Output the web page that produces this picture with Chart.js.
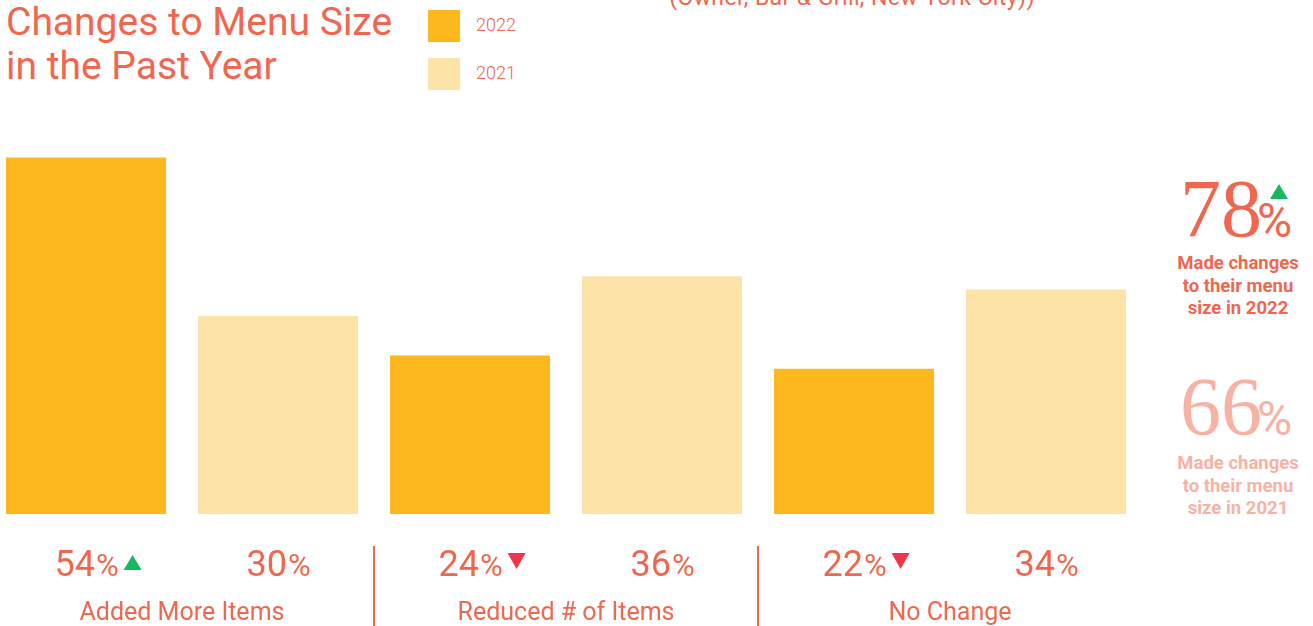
<!DOCTYPE html>
<html>
<head>
<meta charset="utf-8">
<script src="https://cdn.jsdelivr.net/npm/chart.js@4.4.1/dist/chart.umd.min.js"></script>
<style>
  body { margin: 0; width: 1313px; height: 626px; overflow: hidden; background: #fff; position: relative; font-family: Roboto, sans-serif; color: #F1664F; }
  #chart { position: absolute; left: -10px; top: 0; }
  .caption { position: absolute; left: 600px; width: 504px; top: -12px; text-align: center; font-size: 23px; line-height: 20px; font-weight: 400; letter-spacing: 0.4px; }
  .title { position: absolute; left: 6px; top: 0px; font-size: 39px; line-height: 44px; font-weight: 400; }
  .legend { position: absolute; left: 428px; top: 10px; }
  .legend .item { height: 32px; margin-bottom: 16px; display: flex; align-items: center; }
  .legend .box { width: 32px; height: 32px; margin-right: 16px; }
  .legend .txt { font-size: 18px; font-weight: 300; margin-top: -4px; }
  .stat { position: absolute; left: 1158px; width: 160px; text-align: center; }
  .stat .big { position: relative; height: 70px; }
  .stat .num { position: absolute; left: 22px; top: 0; font-family: "Liberation Serif", serif; font-size: 82px; line-height: 82px; }
  .stat .pct { position: absolute; left: 99px; top: 29px; font-size: 48px; line-height: 48px; font-weight: 400; }
  .stat .tri { position: absolute; left: 112px; top: 16px; width: 0; height: 0; border-left: 9px solid transparent; border-right: 9px solid transparent; border-bottom: 15px solid #19B85F; }
  .stat .desc { font-size: 18.5px; line-height: 22.5px; font-weight: 700; margin-top: 0; }
</style>
</head>
<body>
<div class="caption">(Owner, Bar &amp; Grill, New York City))</div>
<div class="title">Changes to Menu Size<br>in the Past Year</div>
<div class="legend" id="legend"></div>
<div id="stats"></div>
<canvas id="chart" width="1323" height="626"></canvas>
<script>
var categories = ['Added More Items', 'Reduced # of Items', 'No Change'];
var seriesNames = ['2022', '2021'];
var values2022 = [54, 24, 22];
var values2021 = [30, 36, 34];
var madeChanges = [78, 66];
var madeChangesText = ['Made changes<br>to their menu<br>size in 2022', 'Made changes<br>to their menu<br>size in 2021'];

var textColor = '#F1664F';
var lightText = '#F7B2A4';
var upColor = '#19B85F';
var downColor = '#F2344A';
var barColors = ['#FDB81D', '#FDE3A8'];

// legend
var legendHtml = '';
for (var i = 0; i < seriesNames.length; i++) {
  legendHtml += '<div class="item"><div class="box" style="background:' + barColors[i] + '"></div><div class="txt">' + seriesNames[i] + '</div></div>';
}
document.getElementById('legend').innerHTML = legendHtml;

// right side totals
var statTops = [168, 366];
var statsHtml = '';
for (var i = 0; i < madeChanges.length; i++) {
  var col = i === 0 ? textColor : lightText;
  var tri = (i === 0 && madeChanges[0] > madeChanges[1]) ? '<div class="tri"></div>' : '';
  statsHtml += '<div class="stat" style="top:' + statTops[i] + 'px;color:' + col + '">' +
    '<div class="big"><span class="num">' + madeChanges[i] + '</span><span class="pct">%</span>' + tri + '</div>' +
    '<div class="desc" style="margin-top:' + (i === 0 ? 14 : 16) + 'px">' + madeChangesText[i] + '</div></div>';
}
document.getElementById('stats').innerHTML = statsHtml;

function triangle(ctx, x, y, up, color) {
  ctx.fillStyle = color;
  ctx.beginPath();
  if (up) {
    ctx.moveTo(x, y + 15); ctx.lineTo(x + 18, y + 15); ctx.lineTo(x + 9, y);
  } else {
    ctx.moveTo(x, y); ctx.lineTo(x + 18, y); ctx.lineTo(x + 9, y + 16);
  }
  ctx.closePath();
  ctx.fill();
}

var bottomLabels = {
  id: 'bottomLabels',
  afterDatasetsDraw: function(chart) {
    var ctx = chart.ctx;
    var xs = chart.scales.x;
    ctx.save();
    ctx.textBaseline = 'alphabetic';
    chart.data.datasets.forEach(function(ds, di) {
      var meta = chart.getDatasetMeta(di);
      meta.data.forEach(function(bar, i) {
        var num = String(ds.data[i]);
        ctx.font = '36px Roboto';
        var w1 = ctx.measureText(num).width;
        ctx.font = '31px Roboto';
        var w2 = ctx.measureText('%').width;
        var left = bar.x - (w1 + w2) / 2;
        ctx.fillStyle = textColor;
        ctx.textAlign = 'left';
        ctx.font = '36px Roboto';
        ctx.fillText(num, left, 576);
        ctx.font = '31px Roboto';
        ctx.fillText('%', left + w1 + 1, 576);
        if (di === 0) {
          var other = chart.data.datasets[1].data[i];
          var up = ds.data[i] > other;
          triangle(ctx, left + w1 + w2 + 6, up ? 555 : 553, up, up ? upColor : downColor);
        }
      });
    });
    ctx.fillStyle = textColor;
    ctx.textAlign = 'center';
    ctx.font = '25px Roboto';
    categories.forEach(function(c, i) {
      ctx.fillText(c, xs.getPixelForValue(i), 620);
    });
    ctx.strokeStyle = textColor;
    ctx.lineWidth = 2;
    for (var i = 1; i < categories.length; i++) {
      var px = Math.round((xs.getPixelForValue(i - 1) + xs.getPixelForValue(i)) / 2);
      ctx.beginPath();
      ctx.moveTo(px, 546);
      ctx.lineTo(px, 626);
      ctx.stroke();
    }
    ctx.restore();
  }
};

var ctx = document.getElementById('chart').getContext('2d');
var chart = new Chart(ctx, {
  type: 'bar',
  data: {
    labels: categories,
    datasets: [
      { label: seriesNames[0], data: values2022, backgroundColor: barColors[0], categoryPercentage: 1, barPercentage: 0.8333 },
      { label: seriesNames[1], data: values2021, backgroundColor: barColors[1], categoryPercentage: 1, barPercentage: 0.8333 }
    ]
  },
  options: {
    responsive: false,
    animation: false,
    layout: { padding: { left: 0, right: 171, top: 98, bottom: 112 } },
    plugins: { legend: { display: false }, tooltip: { enabled: false } },
    scales: {
      x: { display: false },
      y: { display: false, min: 0, max: 63 }
    }
  },
  plugins: [bottomLabels]
});
</script>
</body>
</html>
